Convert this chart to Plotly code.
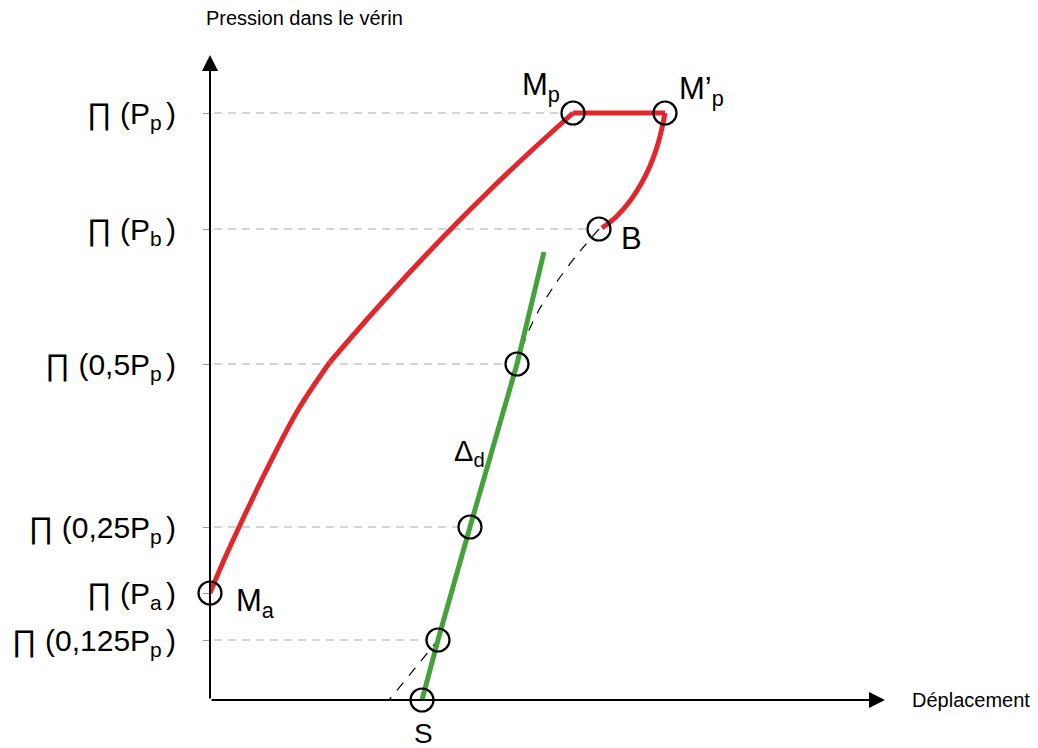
import plotly.graph_objects as go

# y levels (arbitrary schematic units) and their labels
level_y = [587, 471, 336, 173, 107, 60]
level_text = ["∏ (P<sub>p\u2009</sub>)", "∏ (P<sub>b\u2009</sub>)", "∏ (0,5P<sub>p\u2009</sub>)",
              "∏ (0,25P<sub>p\u2009</sub>)", "∏ (P<sub>a\u2009</sub>)", "∏ (0,125P<sub>p\u2009</sub>)"]

# loading curve Ma -> Mp (two parts, kink around 0.5Pp)
load1_x = [0, 14, 31, 55, 88, 120]
load1_y = [107, 140, 177, 227, 290, 338]
load2_x = [120, 160, 200, 240, 280, 320, 363]
load2_y = [338, 384, 428, 470, 510, 548, 587]
# plateau Mp -> M'p
plat_x = [363, 455]
plat_y = [587, 587]
# unloading M'p -> B
unl_x = [455, 452, 447, 440, 431, 420, 406, 392]
unl_y = [587, 572, 553, 534, 516, 499, 483, 472]
# dashed extrapolation B -> 0.5Pp (curved), then down along Delta_d to the axis
ext_up_x = [389, 366, 346, 329, 316, 307]
ext_up_y = [471, 444, 417, 390, 363, 336]
ext_low_x = [307, 260, 228, 179]
ext_low_y = [336, 173, 60, 0]
# line Delta_d
dl_x = [212, 228, 260, 307, 334]
dl_y = [0, 60, 173, 336, 448]

# marked points: Ma, Mp, M'p, B, S, and on Delta_d
pt_x = [0, 363, 455, 389, 212, 228, 260, 307]
pt_y = [107, 587, 587, 471, 0, 60, 173, 336]

# horizontal guides: level and where they stop
guide_y = [587, 471, 336, 173, 60]
guide_stop = [363, 389, 307, 260, 228]

XMAX, YMAX = 700, 692
red = "#e3262c"
green = "#45a23a"
fnt = "Liberation Sans, Arial, sans-serif"

fig = go.Figure()

for gy, gs in zip(guide_y, guide_stop):
    fig.add_trace(go.Scatter(x=[4, gs - 12], y=[gy, gy], mode="lines",
                             line=dict(color="#aaaaaa", width=1, dash="8px,6px"),
                             hoverinfo="skip"))

fig.add_trace(go.Scatter(x=ext_up_x, y=ext_up_y, mode="lines",
                         line=dict(color="black", width=1.2, dash="10px,9px", shape="spline", smoothing=0.8),
                         hoverinfo="skip"))
fig.add_trace(go.Scatter(x=ext_low_x, y=ext_low_y, mode="lines",
                         line=dict(color="black", width=1.2, dash="10px,9px"), hoverinfo="skip"))
fig.add_trace(go.Scatter(x=dl_x, y=dl_y, mode="lines", line=dict(color=green, width=5)))
for cx, cy in [(load1_x, load1_y), (load2_x, load2_y), (unl_x, unl_y)]:
    fig.add_trace(go.Scatter(x=cx, y=cy, mode="lines",
                             line=dict(color=red, width=5, shape="spline", smoothing=1)))
fig.add_trace(go.Scatter(x=plat_x, y=plat_y, mode="lines", line=dict(color=red, width=5)))
fig.add_trace(go.Scatter(x=pt_x, y=pt_y, mode="markers", cliponaxis=False,
                         marker=dict(symbol="circle-open", size=23, color="black",
                                     line=dict(color="black", width=2.2))))

# axes with arrows
fig.add_annotation(x=0, y=645, ax=0, ay=0, xref="x", yref="y", axref="x", ayref="y",
                   showarrow=True, arrowhead=2, arrowsize=1.6, arrowwidth=2, arrowcolor="black", text="")
fig.add_annotation(x=675, y=0, ax=0, ay=0, xref="x", yref="y", axref="x", ayref="y",
                   showarrow=True, arrowhead=2, arrowsize=1.6, arrowwidth=2, arrowcolor="black", text="")

labels = [
    ("Pression dans le vérin", -6, 682, "left", 20),
    ("Déplacement", 700, 0, "left", 20),
    ("M<sub>p</sub>", 331, 613, "center", 31),
    ("M’<sub>p</sub>", 491, 609, "center", 31),
    ("B", 421, 462, "center", 31),
    ("M<sub>a</sub>", 45, 97, "center", 31),
    ("S", 213, -33, "center", 28),
    ("Δ<sub>d</sub>", 259, 247, "center", 29),
]
for txt, lx, ly, anc, sz in labels:
    fig.add_annotation(x=lx / XMAX, y=ly / YMAX, xref="paper", yref="paper", text=txt,
                       showarrow=False, xanchor=anc, yanchor="middle",
                       font=dict(family=fnt, size=sz, color="black"))

fig.update_layout(
    width=1030, height=740,
    margin=dict(l=202, r=128, t=0, b=48),
    plot_bgcolor="white", paper_bgcolor="white",
    showlegend=False,
    font=dict(family=fnt, color="black"),
)
fig.update_xaxes(range=[0, XMAX], showgrid=False, zeroline=False, showline=False,
                 showticklabels=False, ticks="")
fig.update_yaxes(range=[0, YMAX], showgrid=False, zeroline=False, showline=False,
                 tickvals=level_y, ticktext=level_text, ticks="outside", ticklen=6,
                 tickcolor="#999999", tickwidth=1, ticklabelstandoff=21,
                 tickfont=dict(family=fnt, size=30, color="black"))

fig.write_html("out.html")
